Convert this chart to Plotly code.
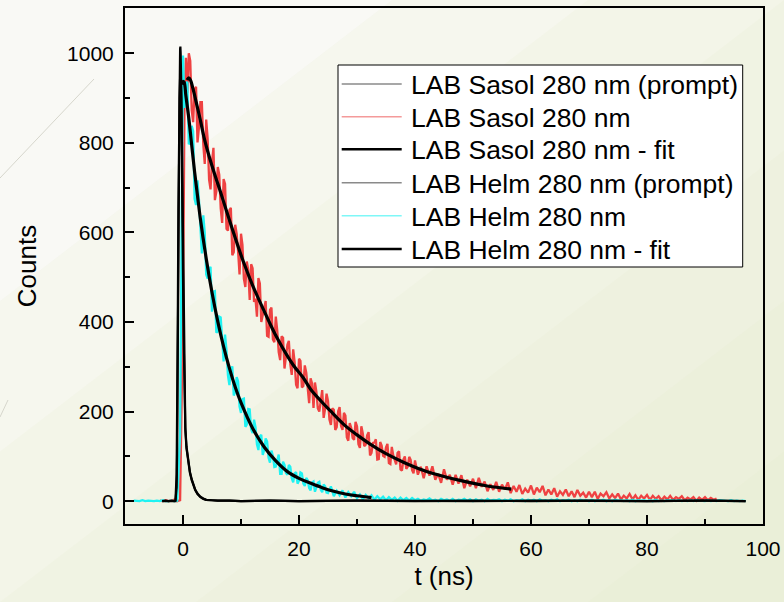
import plotly.graph_objects as go

# ---------------- data ----------------
DT = 0.5  # channel spacing of the coarse histogram lists (ns)

# LAB Sasol 280 nm, measured decay, channels from t = -4 ns every 0.5 ns
sasol_t0 = -4.0
sasol_counts = [
    1, 0, 2, 0, 1, 3, 0, 2,
    420,
    990, 1000, 873, 919, 801, 891, 796, 852, 718, 757,
    672, 746, 654, 719, 608, 650, 549, 617, 557, 597,
    496, 535, 449, 520, 452, 498, 400, 432, 369, 427,
    361, 412, 333, 368, 296, 349, 306, 339, 260, 318,
    254, 303, 244, 274, 208, 244, 200, 248, 206, 224,
    170, 204, 165, 210, 159, 191, 135, 164, 137, 167,
    119, 151, 126, 154, 108, 131, 93, 132, 101, 120,
    85, 121, 92, 108, 71, 93, 72, 99, 69, 91,
    59, 77, 51, 78, 57, 78, 48, 61, 41, 71,
    48, 59, 37, 59, 39, 58, 29, 48, 33, 50,
    29, 52, 32, 44, 22, 38, 25, 43, 21, 37,
    26, 42, 18, 34, 21, 36, 16, 28, 19, 35,
    15, 30, 20, 34, 13, 26, 15, 29, 10, 22,
    14, 26, 11, 22, 9, 25, 12, 19, 8, 21,
    9, 21, 5, 17, 11, 20, 6, 15, 7, 17,
    4, 12, 6, 16, 4, 13, 3, 12, 6, 14,
    3, 12, 5, 11, 2, 10, 4, 12, 3, 9, 5, 11,
    2, 8, 4, 9, 1, 8, 3, 9, 2, 7, 3, 6,
]
# in-between channels (t = 0.25, 0.75, ... 39.75 ns)
sasol_mid_t0 = 0.25
sasol_mid_counts = [
    880, 912, 983, 846, 925, 834, 891, 753, 809, 696,
    789, 691, 729, 621, 708, 604, 655, 556, 597, 506,
    572, 478, 516, 529, 445, 412, 486, 416, 447, 367,
    432, 355, 381, 315, 365, 322, 358, 282, 310, 252,
    313, 257, 287, 219, 263, 265, 207, 232, 186, 240,
    182, 207, 159, 201, 168, 197, 142, 174, 141, 177,
    127, 167, 123, 147, 102, 130, 138, 94, 124, 99,
    128, 83, 102, 82, 111, 68, 100, 77, 92, 62,
]

# LAB Helm 280 nm, measured decay, channels from t = -8.5 ns every 0.5 ns
helm_t0 = -8.5
helm_counts = [
    1, 0, 0, 2, 0, 1, 0, 0, 1, 0, 2, 0, 0, 1, 0, 1,
    150,
    995, 933, 797, 838, 675, 716, 608, 638, 506, 518, 423,
    469, 379, 410, 312, 336, 259, 301, 244, 268, 197,
    229, 171, 205, 152, 165, 114, 148, 114, 133, 86,
    101, 77, 104, 61, 81, 59, 77, 42, 65, 46,
    62, 34, 47, 24, 44, 29, 43, 20, 33, 18,
    33, 11, 23, 13, 24, 8, 20, 11, 21, 7,
    15, 4, 14, 7, 13,
    3, 11, 4, 10, 2, 9, 3, 8, 1, 8, 2, 7, 1, 7, 2,
    5, 1, 4, 2, 6, 1, 3, 0, 5, 2, 4, 1, 5, 0, 3, 2, 5, 1, 4, 0,
    4, 1, 3, 0, 5, 1, 3, 2, 4, 0, 3, 1, 4, 0, 2, 1, 4, 0, 3, 1,
    3, 0, 4, 1, 2, 0, 3, 1, 4, 0, 2, 1, 3, 0, 2, 0, 3, 1, 2, 0,
    3, 0, 2, 1, 3, 0, 2, 0, 3, 1, 2, 0, 2, 0, 3, 0, 2, 1, 2, 0,
    2, 0, 3, 0, 1, 0, 2, 1, 2, 0, 2, 0, 1, 0, 2, 0, 2, 1, 1, 0,
    2, 0, 1, 0, 2, 1, 1, 0, 2, 0, 1, 0, 1, 0,
]
# in-between channels (t = -0.25, 0.25, ... 24.75 ns)
helm_mid_t0 = -0.25
helm_mid_counts = [
    600,
    878, 936, 801, 826, 661, 673, 553, 599, 497, 523,
    468, 376, 412, 346, 372, 281, 293, 236, 277, 211,
    228, 166, 206, 160, 182, 127, 145, 103, 140, 97,
    113, 76, 91, 61, 88, 63, 81, 51, 62, 39,
    64, 39, 52, 29, 42, 21, 41, 26, 37, 19,
]

# prompts (instrument response)
sasol_prompt_t = [-3.6, -3.0, -2.5, -2.0, -1.5, -1.3, -1.1, -1.0, -0.9, -0.8, -0.7,
                  -0.6, -0.5, -0.45, -0.4, -0.3, -0.2, -0.1, 0.0, 0.1, 0.2, 0.3,
                  0.4, 0.6, 0.8, 1.0, 1.2, 1.5, 1.8, 2.1, 2.5, 3.0, 3.5, 4.0,
                  5, 6, 8, 10, 15, 20, 30, 40, 50, 60, 70, 80, 90, 97]
sasol_prompt_y = [0, 1, 0, 1, 0, 2, 60, 180, 400, 650, 850,
                  960, 1010, 1015, 1000, 930, 820, 680, 520, 380, 270, 200,
                  160, 118, 95, 78, 63, 47, 35, 25, 16, 9, 5, 3,
                  2, 1, 1, 0, 1, 0, 1, 0, 1, 0, 1, 0, 1, 0]

helm_prompt_t = [-3.5, -2.0, -1.3, -1.1, -1.0, -0.9, -0.8, -0.7, -0.6, -0.5, -0.4,
                 -0.3, -0.2, -0.1, 0.0, 0.1, 0.2, 0.3, 0.4, 0.6, 0.8, 1.0, 1.2,
                 1.5, 1.8, 2.1, 2.5, 3.0, 3.5, 4.0, 5, 6, 8, 10, 15, 20, 30, 40,
                 50, 60, 70, 80, 90, 97]
helm_prompt_y = [0, 1, 0, 30, 120, 330, 580, 780, 900, 945, 950,
                 900, 800, 650, 500, 370, 270, 205, 165, 122, 98, 80, 65,
                 49, 36, 26, 17, 10, 6, 3, 2, 1, 1, 0, 1, 0, 1, 0,
                 0, 1, 0, 0, 1, 0]

# fits
sasol_fit_t = [0.7, 1.0, 1.3, 1.7, 2.2, 3.0, 3.7, 4.5, 5.5, 6.3, 7.5, 8.9, 10.4, 12,
               14.4, 16, 19, 20.7, 22, 23.9, 25.3, 28, 30, 32.2, 35, 38, 41.4, 45,
               48.9, 52, 54, 56.6]
sasol_fit_y = [940, 945, 940, 922, 895, 850, 808, 770, 728, 697, 648, 592, 535, 482,
               413, 370, 304, 276, 250, 222, 203, 168, 148, 128, 106, 87, 69, 55,
               43, 35, 31, 27]

helm_fit_t = [-0.2, 0.0, 0.2, 0.5, 1.0, 1.5, 2.0, 2.5, 3.0, 4.0, 5.0, 6.0, 7.0, 8.0,
              9.0, 10, 12, 14, 16, 18, 20, 22, 24, 26, 28, 30, 32.5]
helm_fit_y = [930, 937, 935, 905, 855, 795, 735, 682, 630, 542, 466, 401, 345, 297,
              255, 220, 163, 121, 90, 66, 51, 40, 30, 22, 16, 12, 8]

legend_names = [
    "LAB Sasol 280 nm (prompt)",
    "LAB Sasol 280 nm",
    "LAB Sasol 280 nm - fit",
    "LAB Helm 280 nm (prompt)",
    "LAB Helm 280 nm",
    "LAB Helm 280 nm - fit",
]

x_ticks = [0, 20, 40, 60, 80, 100]
y_ticks = [0, 200, 400, 600, 800, 1000]

# ---------------- styles ----------------
W, H = 784, 602
ML, MR, MT, MB = 125, 21, 8, 78
PW, PH = W - ML - MR, H - MT - MB

RED = "#ef4242"
CYAN = "#1ff2f2"
FONT = "Liberation Sans, Arial, sans-serif"


def px_x(x):
    return (x - ML) / PW


def px_y(y):
    return (H - MB - y) / PH


def channels(t0, counts):
    return [(t0 + DT * i, c) for i, c in enumerate(counts)]


sasol_pts = sorted(channels(sasol_t0, sasol_counts) + channels(sasol_mid_t0, sasol_mid_counts))
helm_pts = sorted(channels(helm_t0, helm_counts) + channels(helm_mid_t0, helm_mid_counts))

fig = go.Figure()

fig.add_trace(go.Scatter(x=[p[0] for p in sasol_pts], y=[p[1] for p in sasol_pts],
                         mode="lines", name=legend_names[1],
                         line=dict(color=RED, width=2.3), showlegend=False))
fig.add_trace(go.Scatter(x=[p[0] for p in helm_pts], y=[p[1] for p in helm_pts],
                         mode="lines", name=legend_names[4],
                         line=dict(color=CYAN, width=2.3), showlegend=False))
fig.add_trace(go.Scatter(x=helm_prompt_t, y=helm_prompt_y, mode="lines", name=legend_names[3],
                         line=dict(color="black", width=2.2), showlegend=False))
fig.add_trace(go.Scatter(x=sasol_prompt_t, y=sasol_prompt_y, mode="lines", name=legend_names[0],
                         line=dict(color="black", width=2.2), showlegend=False))
fig.add_trace(go.Scatter(x=sasol_fit_t, y=sasol_fit_y, mode="lines", name=legend_names[2],
                         line=dict(color="black", width=3.2, shape="spline"),
                         showlegend=False))
fig.add_trace(go.Scatter(x=helm_fit_t, y=helm_fit_y, mode="lines", name=legend_names[5],
                         line=dict(color="black", width=3.2, shape="spline"),
                         showlegend=False))

# ---------- background gradient (slide background) ----------
shapes = []
for thr in [0.5, 0.75, 1.0, 1.25, 1.5, 1.75]:
    if thr <= 1.0:
        pts = [(W * thr, 0), (W, 0), (W, H), (0, H), (0, H * thr)]
    else:
        pts = [(W, H * (thr - 1)), (W, H), (W * (thr - 1), H)]
    path = "M " + " L ".join(f"{px_x(a):.4f},{px_y(b):.4f}" for a, b in pts) + " Z"
    shapes.append(dict(type="path", xref="paper", yref="paper", path=path,
                       fillcolor="#e2e8c6", opacity=0.15, line=dict(width=0),
                       layer="below"))

# decorative slide lines
shapes.append(dict(type="line", xref="paper", yref="paper",
                   x0=px_x(0), y0=px_y(178), x1=px_x(94), y1=px_y(79),
                   line=dict(color="#d6d6cc", width=1), layer="below"))
shapes.append(dict(type="line", xref="paper", yref="paper",
                   x0=px_x(0), y0=px_y(417), x1=px_x(8), y1=px_y(400),
                   line=dict(color="#d6d6cc", width=1), layer="below"))

# ---------- legend box (drawn manually to match Origin's spacing) ----------
LEG_L, LEG_R, LEG_T, LEG_B = 338, 742.7, 65, 267
ROW_Y = [84, 116.7, 149.3, 182.7, 215.7, 249]
KEY_X0, KEY_X1, TEXT_X = 341.7, 401.7, 409
legend_key_styles = [
    dict(color="#8a8a8a", width=1.5),
    dict(color="#f49a9a", width=1.5),
    dict(color="black", width=2.5),
    dict(color="#8a8a8a", width=1.5),
    dict(color="#7ff7f7", width=1.5),
    dict(color="black", width=2.5),
]
shapes.append(dict(type="rect", xref="paper", yref="paper",
                   x0=px_x(LEG_L), x1=px_x(LEG_R), y0=px_y(LEG_B), y1=px_y(LEG_T),
                   fillcolor="white", line=dict(color="black", width=1), layer="above"))
annotations = []
for name, st, ry in zip(legend_names, legend_key_styles, ROW_Y):
    shapes.append(dict(type="line", xref="paper", yref="paper",
                       x0=px_x(KEY_X0), x1=px_x(KEY_X1), y0=px_y(ry), y1=px_y(ry),
                       line=st, layer="above"))
    annotations.append(dict(xref="paper", yref="paper", x=px_x(TEXT_X), y=px_y(ry + 1),
                            xanchor="left", yanchor="middle", text=name, showarrow=False,
                            font=dict(family=FONT, size=26.5, color="black")))

axis_common = dict(
    showline=True, linecolor="black", linewidth=2, mirror=True,
    ticks="inside", ticklen=9, tickwidth=2, tickcolor="black",
    showgrid=False, zeroline=False,
    tickfont=dict(family=FONT, size=21, color="black"),
    ticklabelstandoff=5,
)

fig.update_xaxes(
    range=[-10, 100], tickvals=x_ticks, ticktext=[str(v) for v in x_ticks],
    title=dict(text="t (ns)", font=dict(family=FONT, size=26, color="black"), standoff=8),
    minor=dict(dtick=10, tick0=0, ticks="inside", ticklen=5, tickwidth=2, tickcolor="black"),
    **axis_common,
)
fig.update_yaxes(
    range=[-51, 1101], tickvals=y_ticks, ticktext=[str(v) for v in y_ticks],
    title=dict(text="Counts", font=dict(family=FONT, size=26, color="black"), standoff=23),
    minor=dict(dtick=100, tick0=0, ticks="inside", ticklen=5, tickwidth=2, tickcolor="black"),
    **axis_common,
)

fig.update_layout(
    width=W, height=H,
    margin=dict(l=ML, r=MR, t=MT, b=MB, autoexpand=False),
    paper_bgcolor="#f9f9f5",
    plot_bgcolor="rgba(0,0,0,0)",
    font=dict(family=FONT, color="black"),
    showlegend=False,
    shapes=shapes,
    annotations=annotations,
)

fig.write_html("out.html")
